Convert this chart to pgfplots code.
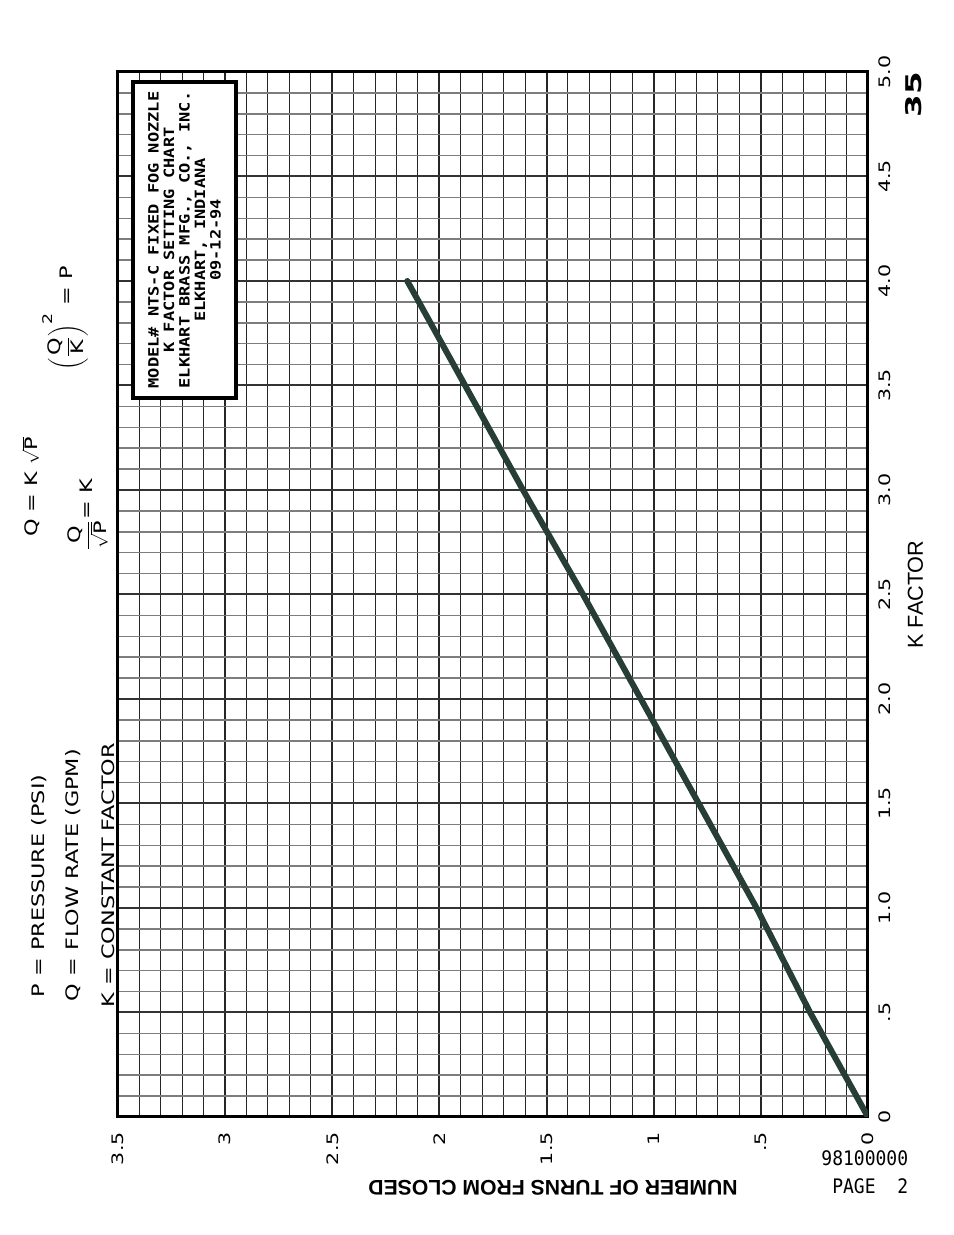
\documentclass[border=0pt]{standalone}
\usepackage{fontspec}
\setmainfont{DejaVu Sans}
\setsansfont{DejaVu Sans}
\newfontfamily\plotfont[FakeStretch=1.3]{DejaVu Sans}
\newfontfamily\plotmono[FakeStretch=1.2]{DejaVu Sans Mono}
\newfontfamily\pagemono[FakeStretch=0.9]{DejaVu Sans Mono}
\newfontfamily\headfont{Liberation Sans}
\newfontfamily\widebold[FakeStretch=1.5]{DejaVu Sans}
\usepackage{pgfplots}
\pgfplotsset{compat=1.18}
\definecolor{kline}{RGB}{38,62,54}
\definecolor{minorgray}{RGB}{125,125,125}

\begin{document}
\begin{tikzpicture}
\path[use as bounding box] (0,0) rectangle (572.4pt,741pt);
\begin{axis}[
  at={(70.8pt,70.8pt)}, anchor=south west,
  scale only axis, width=450pt, height=627pt,
  x dir=reverse,
  xmin=0, xmax=3.5, ymin=0, ymax=5,
  xtick={0,0.5,1,1.5,2,2.5,3,3.5},
  xticklabels={0,.5,1,1.5,2,2.5,3,3.5},
  ytick={0,0.5,1,1.5,2,2.5,3,3.5,4,4.5,5},
  yticklabels={0,.5,1.0,1.5,2.0,2.5,3.0,3.5,4.0,4.5,5.0},
  minor tick num=4,
  grid=both,
  major tick length=0pt, minor tick length=0pt,
  major x grid style={black!85, line width=1.2pt},
  minor x grid style={black!85, line width=0.6pt},
  major y grid style={black!80, line width=1.2pt},
  minor y grid style={minorgray, line width=0.9pt},
  axis line style={black, line width=1.8pt},
  xticklabel style={font=\plotfont\fontsize{9.5}{10}\selectfont,
    rotate=90, anchor=east, inner xsep=9pt, inner ysep=0pt},
  yticklabel pos=right,
  yticklabel style={font=\plotfont\fontsize{9.5}{10}\selectfont,
    rotate=90, anchor=north, inner ysep=6.5pt, inner xsep=0pt},
  ylabel={K FACTOR},
  ylabel style={font=\headfont\fontsize{13}{14}\selectfont},
]
\addplot[kline, line width=3.6pt, line cap=round, mark=none] coordinates {
  (0,0) (0.27,0.5) (0.52,1.0) (0.79,1.5) (1.06,2.0)
  (1.33,2.5) (1.61,3.0) (1.88,3.5) (2.15,4.0)
};
\end{axis}

\begin{scope}[x=0.6pt, y=-0.6pt, shift={(0pt,741pt)}]
  % title block
  \draw[line width=2pt, fill=white] (133,82) rectangle (236,398);
  \node[rotate=90, align=center, font=\plotmono\bfseries\fontsize{8.5}{9.3}\selectfont]
    at (184.5,240) {MODEL\# NTS-C FIXED FOG NOZZLE\\K FACTOR SETTING CHART\\ELKHART BRASS MFG., CO., INC.\\ELKHART, INDIANA\\09-12-94};

  % legend of symbols
  \node[rotate=90, anchor=west, font=\plotfont\fontsize{10.3}{12}\selectfont]
    at (39,1003) {P = PRESSURE (PSI)};
  \node[rotate=90, anchor=west, font=\plotfont\fontsize{10.3}{12}\selectfont]
    at (73,1007) {Q = FLOW RATE (GPM)};
  \node[rotate=90, anchor=west, font=\plotfont\fontsize{10.3}{12}\selectfont]
    at (108,1013) {K = CONSTANT FACTOR};

  % formulas
  \node[rotate=90, font=\plotfont\fontsize{10.3}{12}\selectfont]
    at (31,487) {Q = K $\sqrt{\mbox{P}}$};
  \node[rotate=90, font=\plotfont\fontsize{10.3}{12}\selectfont]
    at (88,515) {$\displaystyle\frac{\mbox{Q}}{\sqrt{\mbox{P}}}$= K};
  \node[rotate=90, font=\plotfont\fontsize{10.3}{12}\selectfont]
    at (65,318) {$\displaystyle\left(\frac{\mbox{Q}}{\mbox{K}}\right)^{\mbox{\fontsize{8}{9}\selectfont 2}}$ = P};

  % x axis title, printed upside down on the sheet
  \node[rotate=180, font=\headfont\bfseries\fontsize{12.7}{14}\selectfont]
    at (553,1188) {NUMBER OF TURNS FROM CLOSED};

  \node[anchor=east, font=\pagemono\fontsize{12}{14}\selectfont] at (914,1158) {98100000};
  \node[anchor=east, font=\pagemono\fontsize{12}{14}\selectfont] at (914,1186) {PAGE\ \ 2};
  \node[rotate=90, font=\widebold\bfseries\fontsize{13}{14}\selectfont] at (914,95) {35};
\end{scope}
\end{tikzpicture}
\end{document}
